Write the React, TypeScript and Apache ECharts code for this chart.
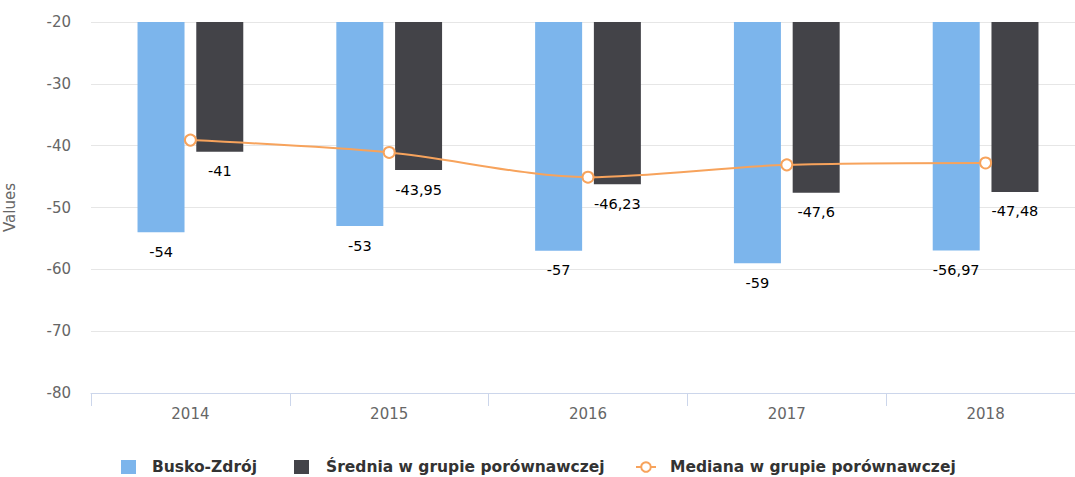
import React, { useEffect, useRef } from "react";
import * as echarts from "echarts";

const categories = ["2014", "2015", "2016", "2017", "2018"];
const buskoValues = [-54, -53, -57, -59, -56.97];
const sredniaValues = [-41, -43.95, -46.23, -47.6, -47.48];
const medianaValues = [-39.1, -41.1, -45.1, -43.1, -42.8];
const yTicks = { min: -80, max: -20, interval: 10 };

const FONT = "DejaVu Sans";
const fmt = (v: number) => String(v).replace(".", ",");

export default function App() {
  const ref = useRef<HTMLDivElement>(null);
  useEffect(() => {
    document.body.style.margin = "0";
    if (!ref.current) return;
    const chart = echarts.init(ref.current, undefined, { renderer: "svg" });
    const legendText = { fontSize: 15.5, fontWeight: "bold", color: "#333333", fontFamily: FONT };
    chart.setOption({
      animation: false,
      textStyle: { fontFamily: FONT },
      grid: {
        left: 91,
        top: 22,
        width: 994,
        height: 371,
        containLabel: false,
        outerBoundsMode: "none",
      },
      legend: [
        {
          left: 116,
          top: 454,
          itemWidth: 15,
          itemHeight: 14,
          icon: "rect",
          data: ["Busko-Zdrój"],
          textStyle: { ...legendText, padding: [0, 0, 0, 11] },
        },
        {
          left: 289,
          top: 454,
          itemWidth: 15,
          itemHeight: 14,
          icon: "rect",
          data: ["Średnia w grupie porównawczej"],
          textStyle: { ...legendText, padding: [0, 0, 0, 12] },
        },
        {
          left: 630,
          top: 454,
          itemWidth: 20,
          itemHeight: 12,
          data: ["Mediana w grupie porównawczej"],
          textStyle: { ...legendText, padding: [0, 0, 0, 9] },
        },
      ],
      xAxis: {
        type: "category",
        data: categories,
        axisLine: { lineStyle: { color: "#ccd6eb", width: 1 } },
        axisTick: { show: true, length: 13, lineStyle: { color: "#ccd6eb" }, alignWithLabel: false },
        axisLabel: { color: "#666666", fontSize: 15, margin: 13, fontFamily: FONT },
      },
      yAxis: {
        type: "value",
        min: yTicks.min,
        max: yTicks.max,
        interval: yTicks.interval,
        name: "Values",
        nameLocation: "middle",
        nameGap: 74,
        nameRotate: 90,
        nameTextStyle: { color: "#666666", fontSize: 15, fontFamily: FONT },
        axisLine: { show: false },
        axisTick: { show: false },
        splitLine: { lineStyle: { color: "#e6e6e6", width: 1 } },
        axisLabel: { color: "#666666", fontSize: 15, margin: 20, fontFamily: FONT },
      },
      series: [
        {
          name: "Busko-Zdrój",
          type: "bar",
          data: buskoValues,
          barWidth: 47,
          barGap: "25%",
          clip: true,
          itemStyle: { color: "#7cb5ec" },
          label: {
            show: true,
            position: "bottom",
            distance: 12,
            color: "#000000",
            fontSize: 14.5,
            fontFamily: FONT,
            formatter: (p: any) => fmt(p.value),
          },
        },
        {
          name: "Średnia w grupie porównawczej",
          type: "bar",
          data: sredniaValues,
          barWidth: 47,
          barGap: "25%",
          clip: true,
          itemStyle: { color: "#434348" },
          label: {
            show: true,
            position: "bottom",
            distance: 12,
            color: "#000000",
            fontSize: 14.5,
            fontFamily: FONT,
            formatter: (p: any) => fmt(p.value),
          },
        },
        {
          name: "Mediana w grupie porównawczej",
          type: "line",
          data: medianaValues,
          smooth: 0.3,
          symbol: "circle",
          symbolSize: 11,
          z: 5,
          lineStyle: { color: "#f7a35c", width: 2 },
          itemStyle: { color: "#ffffff", borderColor: "#f7a35c", borderWidth: 2 },
        },
      ],
    });
    return () => chart.dispose();
  }, []);
  return <div ref={ref} style={{ width: 1075, height: 477 }} />;
}
